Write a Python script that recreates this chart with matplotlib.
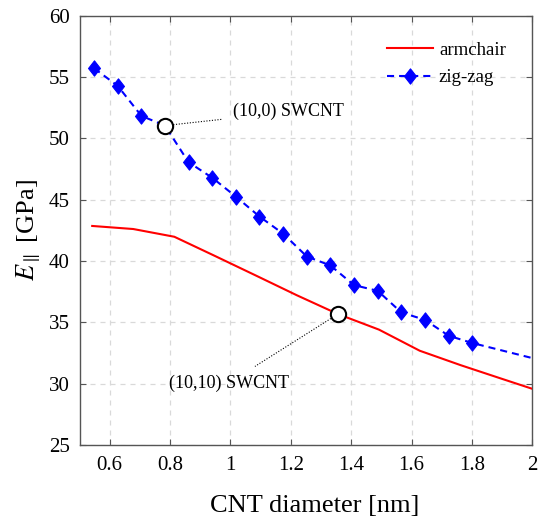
import matplotlib
matplotlib.use("Agg")
import matplotlib.pyplot as plt
from matplotlib.path import Path

plt.rcParams["font.family"] = ["Liberation Serif", "DejaVu Serif"]
plt.rcParams["mathtext.fontset"] = "stix"

# Armchair (n,n) tubes: diameter [nm] and axial modulus [GPa]
arm_d = [0.542, 0.678, 0.814, 0.949, 1.085, 1.220, 1.356, 1.492, 1.627, 1.763, 1.898, 2.034]
arm_E = [42.85, 42.60, 41.97, 40.40, 38.80, 37.20, 35.67, 34.40, 32.68, 31.50, 30.40, 29.30]

# Zig-zag (n,0) tubes
zz_d = [0.548, 0.626, 0.705, 0.783, 0.861, 0.940, 1.018, 1.096, 1.175,
        1.253, 1.331, 1.409, 1.488, 1.566, 1.644, 1.723, 1.801, 2.000]
zz_E = [55.70, 54.28, 51.82, 51.03, 48.05, 46.77, 45.24, 43.62, 42.21,
        40.36, 39.63, 38.03, 37.56, 35.80, 35.20, 33.90, 33.31, 32.08]
zz_marked = list(range(17))

# Highlighted tubes
hl_labels = ["(10,0) SWCNT", "(10,10) SWCNT"]
hl_d = [0.783, 1.356]
hl_E = [51.03, 35.67]
hl_text_xy = [(1.009, 52.17), (0.995, 30.05)]
hl_leader_end = [(0.975, 51.55), (1.081, 31.40)]

x_ticks = [0.6, 0.8, 1.0, 1.2, 1.4, 1.6, 1.8, 2.0]
x_ticklabels = ["0.6", "0.8", "1", "1.2", "1.4", "1.6", "1.8", "2"]
y_ticks = [25, 30, 35, 40, 45, 50, 55, 60]

diamond = Path([(0, 1), (0.78, 0), (0, -1), (-0.78, 0), (0, 1)],
               [Path.MOVETO, Path.LINETO, Path.LINETO, Path.LINETO, Path.CLOSEPOLY])

fig = plt.figure(figsize=(5.41, 5.18), dpi=100)
ax = fig.add_axes([0.147, 0.141, 0.837, 0.829])

ax.plot(arm_d, arm_E, color="red", lw=1.5, label="armchair", zorder=3)
ax.plot(zz_d, zz_E, color="blue", lw=1.5, dashes=(3.4, 2.4),
        marker=diamond, markersize=11, markevery=zz_marked,
        markerfacecolor="blue", markeredgecolor="blue", markeredgewidth=0.8,
        label="zig-zag", zorder=3)

for lab, d, e, (tx, ty), (lx, ly) in zip(hl_labels, hl_d, hl_E, hl_text_xy, hl_leader_end):
    ax.plot([d, lx], [e, ly], color="black", lw=0.8, ls=(0, (1, 1.5)), zorder=4)
    ax.plot([d], [e], marker="o", markersize=11, markerfacecolor="white",
            markeredgecolor="black", markeredgewidth=1.5, zorder=5, clip_on=False)
    ha = "left" if tx > d else "center"
    ax.text(tx, ty, lab, fontsize=13, ha=ha, va="center", zorder=6)

ax.set_xlim(0.5, 2.0)
ax.set_ylim(25, 60)
ax.set_xticks(x_ticks)
ax.set_xticklabels(x_ticklabels)
ax.set_yticks(y_ticks)
ax.tick_params(direction="in", length=4, width=0.8, color="#555555",
               labelsize=15, top=True, right=True)
ax.tick_params(axis="x", pad=8)
ax.tick_params(axis="y", pad=7)
ax.grid(True, color="#d9d9d9", ls=(0, (4, 4)), lw=0.9, zorder=0)
ax.set_axisbelow(True)
for s in ax.spines.values():
    s.set_color("#555555")
    s.set_linewidth(1.0)

ax.set_xlabel("CNT diameter [nm]", fontsize=19, labelpad=14.5)
ax.xaxis.label.set_x(0.52)
ax.set_ylabel(r"$E_{\parallel}$ [GPa]", fontsize=19, labelpad=4)

leg = ax.legend(loc="upper left", bbox_to_anchor=(0.679, 0.940), frameon=False,
                fontsize=13.6, handlelength=2.42, handletextpad=0.33,
                borderpad=0, borderaxespad=0, labelspacing=0.55)

fig.savefig("out.png", dpi=100)
